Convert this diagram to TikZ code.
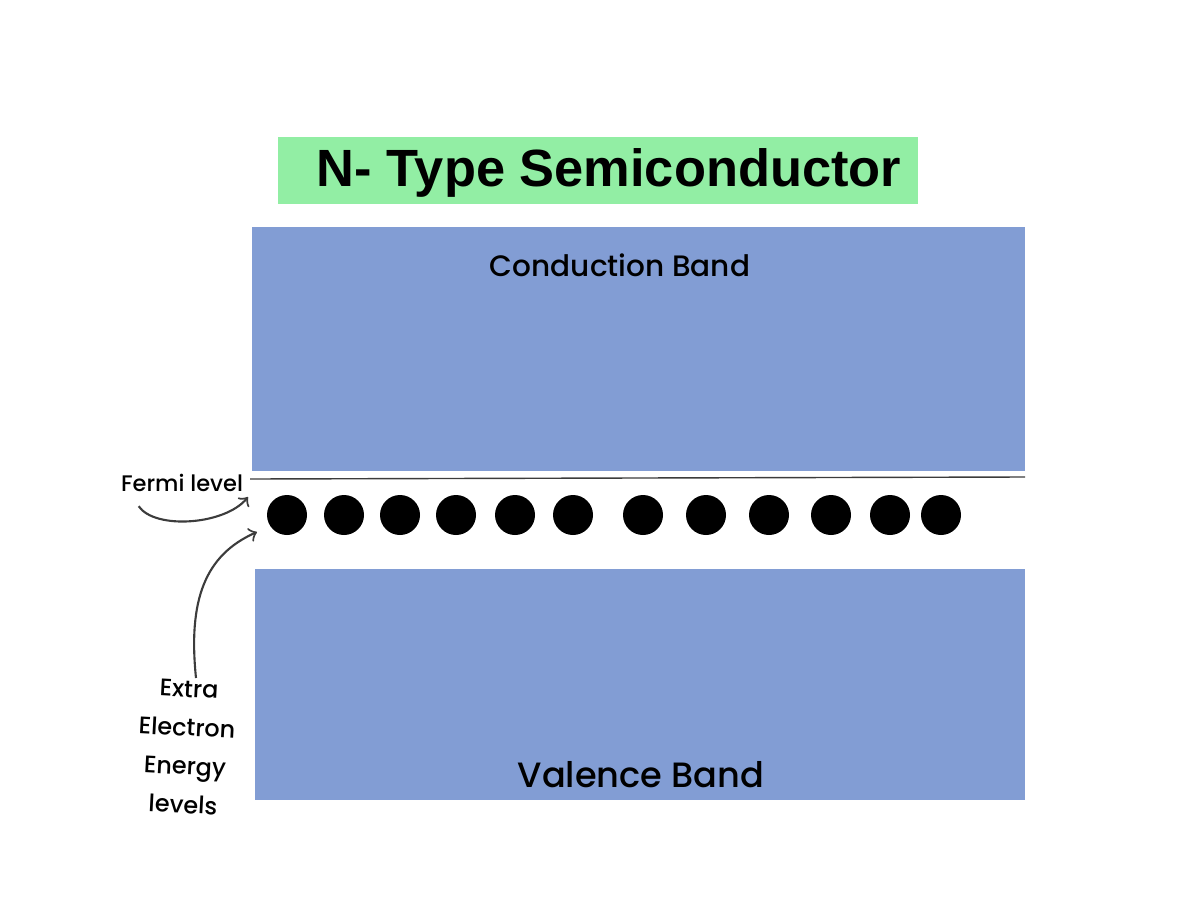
\documentclass[tikz,border=0pt]{standalone}
\usepackage{fontspec}
\setmainfont{Poppins}[UprightFont=* Medium]
\newfontfamily\titlefont{Liberation Sans}
\usepackage{tikz}
\usetikzlibrary{arrows,positioning,calc}
\definecolor{bandblue}{RGB}{130, 157, 212}
\definecolor{titlegreen}{RGB}{146, 238, 164}
\definecolor{linegray}{RGB}{60, 60, 60}

\begin{document}
\begin{tikzpicture}[x=0.01cm,y=-0.01cm]
    \useasboundingbox (0,0) rectangle (1200,897);
    % Title
    \fill[titlegreen] (278,137) rectangle (918,204);
    \node[font=\titlefont\bfseries\fontsize{14.9}{18}\selectfont] (title) at (609,173) {N- Type Semiconductor};

    % Conduction and valence bands
    \fill[bandblue] (252,227) rectangle (1025,471);
    \fill[bandblue] (255,569) rectangle (1025,800);
    \node[font=\fontsize{8.4}{10}\selectfont] (cb) at (620,265) {Conduction Band};
    \node[font=\fontsize{10}{13}\selectfont] (vb) at (641,775) {Valence Band};

    % Fermi level
    \coordinate (fl) at (250,479);
    \coordinate (fr) at (1025,477);
    \draw[linegray,thin] (fl) -- (fr);

    % Extra electron levels
    \foreach \i/\x in {1/287,2/344,3/400,4/456,5/515,6/573,7/643,8/706,9/769,10/831,11/890,12/941}
        \fill (\x,515) circle (20) coordinate (d\i);

    % Labels with arrows
    \node[font=\fontsize{6.4}{8}\selectfont] (fermi) at (182,483) {Fermi level};
    \coordinate (ftip) at (248,497);
    \draw[->,linegray,semithick] ($(fermi.south west)+(30,2)$) .. controls (155,530) and (225,525) .. (ftip);

    \node[font=\fontsize{6.8}{11}\selectfont,align=center,rotate=-3] (extra) at (186,747) {Extra\\Electron\\Energy\\levels};
    \coordinate (etip) at (257,532);
    \draw[->,linegray,semithick] (196,678) .. controls (188,600) and (205,555) .. (etip);
\end{tikzpicture}
\end{document}
